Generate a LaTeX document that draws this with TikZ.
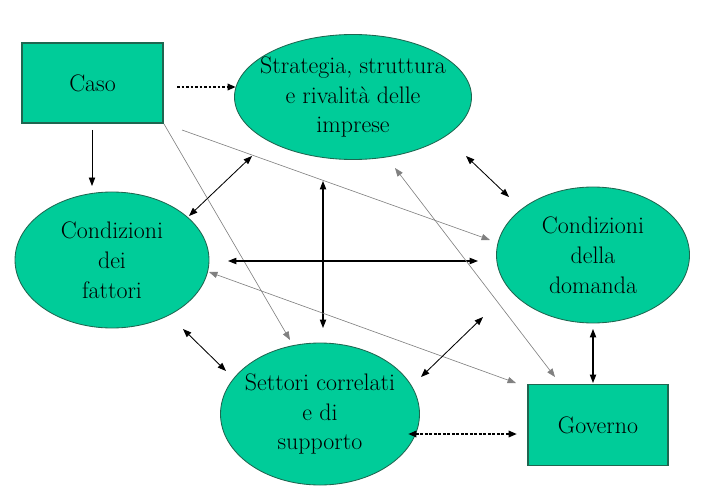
\documentclass[tikz,border=0pt]{standalone}
\usetikzlibrary{shapes.geometric,arrows.meta}
\definecolor{verde}{HTML}{00CC99}
\definecolor{bordo}{HTML}{1F6650}
\tikzset{
	ovale/.style={ellipse,fill=verde,draw=bordo,line width=0.6pt,inner sep=-30pt,align=center,font=\fontsize{17}{21.3}\selectfont},
	scatola/.style={rectangle,fill=verde,draw=bordo,line width=0.8pt,inner sep=0pt,align=center,font=\fontsize{17}{21.3}\selectfont},
	punta/.style={-{Triangle[length=6pt,width=4.5pt]}},
	doppia/.style={{Triangle[length=6pt,width=4.5pt]}-{Triangle[length=6pt,width=4.5pt]},line width=0.6pt},
	grigia/.style={draw=gray,line width=0.45pt},
	puntini/.style={line width=1.5pt,dash pattern=on 2pt off 1.2pt}
}
\begin{document}
\begin{tikzpicture}[x=0.025cm,y=-0.025cm]
	\useasboundingbox (0,0) rectangle (714,498);
	\node[scatola,minimum width=141*0.025cm,minimum height=80*0.025cm](caso) at (92.5,83) {Caso};
	\node[ovale,minimum width=237*0.025cm,minimum height=125*0.025cm](strat) at (353,97) {Strategia, struttura\\e rivalità delle\\imprese};
	\node[ovale,minimum width=194*0.025cm,minimum height=136*0.025cm](fatt) at (112,260) {Condizioni\\dei\\fattori};
	\node[ovale,minimum width=193*0.025cm,minimum height=136*0.025cm](dom) at (593,255) {Condizioni\\della\\domanda};
	\node[ovale,minimum width=199*0.025cm,minimum height=142*0.025cm](sett) at (320,414) {Settori correlati\\e di\\supporto};
	\node[scatola,minimum width=140*0.025cm,minimum height=81*0.025cm](gov) at (598,425) {Governo};
	% estremi delle frecce
	\coordinate (c1) at (177,87);
	\coordinate (s1) at (236,87);
	\coordinate (c2) at (92,130);
	\coordinate (f2) at (92,186);
	\coordinate (c3) at (182,130);
	\coordinate (d3) at (490,240);
	\coordinate (c4) at (164,124);
	\coordinate (t4) at (290,340);
	\coordinate (s5) at (252,156);
	\coordinate (f5) at (189,216);
	\coordinate (s6) at (323,181);
	\coordinate (t6) at (323,328);
	\coordinate (f7) at (228,261);
	\coordinate (d7) at (478,261);
	\coordinate (s8) at (466,156);
	\coordinate (d8) at (509,197);
	\coordinate (s9) at (395,168);
	\coordinate (g9) at (555,377);
	\coordinate (f10) at (209,272);
	\coordinate (g10) at (516,383);
	\coordinate (t11) at (421,377);
	\coordinate (d11) at (483,317);
	\coordinate (f12) at (183,329);
	\coordinate (t12) at (226,371);
	\coordinate (d13) at (593,329);
	\coordinate (g13) at (593,383);
	\coordinate (t14) at (408,434);
	\coordinate (g14) at (517,434);
	% frecce
	\draw[punta,puntini](c1)--(s1);
	\draw[punta,line width=0.6pt](c2)--(f2);
	\draw[punta,grigia](c3)--(d3);
	\draw[punta,grigia](c4)--(t4);
	\draw[doppia](s5)--(f5);
	\draw[doppia,line width=0.8pt](s6)--(t6);
	\draw[doppia,line width=0.8pt](f7)--(d7);
	\draw[doppia](s8)--(d8);
	\draw[doppia,grigia](s9)--(g9);
	\draw[doppia,grigia](f10)--(g10);
	\draw[doppia](t11)--(d11);
	\draw[doppia](f12)--(t12);
	\draw[doppia,line width=0.8pt](d13)--(g13);
	\draw[doppia,puntini](t14)--(g14);
\end{tikzpicture}
\end{document}
